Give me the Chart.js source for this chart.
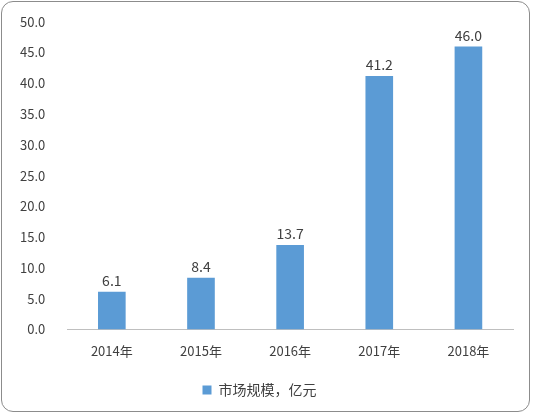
<!DOCTYPE html>
<html>
<head>
<meta charset="utf-8">
<script src="https://cdn.jsdelivr.net/npm/chart.js@4"></script>
<style>
  html, body { margin: 0; padding: 0; background: #fff; }
  #box {
    position: absolute; left: 1px; top: 1px; width: 529px; height: 411px;
    border: 1px solid #8c8c8c; border-radius: 12px; box-sizing: border-box;
  }
  #wrap { position: absolute; left: 0; top: 0; width: 533px; height: 415px; }
</style>
</head>
<body>
<div id="box"></div>
<div id="wrap"><canvas id="chart"></canvas></div>
<script>
const categories = ['2014年', '2015年', '2016年', '2017年', '2018年'];
const marketSize = [6.1, 8.4, 13.7, 41.2, 46.0];
const seriesName = '市场规模，亿元';

const fontFamily = '"Noto Sans CJK SC", "Liberation Sans", sans-serif';

// 柱顶数值标签
const valueLabels = {
    id: 'valueLabels',
    afterDatasetsDraw(chart) {
        const ctx = chart.ctx;
        const meta = chart.getDatasetMeta(0);
        ctx.save();
        ctx.font = '14px ' + fontFamily;
        ctx.fillStyle = '#404040';
        ctx.textAlign = 'center';
        ctx.textBaseline = 'bottom';
        meta.data.forEach((bar, i) => {
            ctx.fillText(marketSize[i].toFixed(1), bar.x, bar.y - 4);
        });
        ctx.restore();
    }
};

new Chart(document.getElementById('chart').getContext('2d'), {
    type: 'bar',
    data: {
        labels: categories,
        datasets: [{
            label: seriesName,
            data: marketSize,
            backgroundColor: '#5B9BD5',
            barPercentage: 0.62,
            categoryPercentage: 0.5
        }]
    },
    options: {
        responsive: true,
        maintainAspectRatio: false,
        animation: false,
        layout: { padding: { left: 6, right: 20, top: 10, bottom: 8 } },
        plugins: {
            legend: {
                position: 'bottom',
                labels: {
                    boxWidth: 9, boxHeight: 9, padding: 18,
                    color: '#404040',
                    font: { family: fontFamily, size: 14 }
                }
            },
            tooltip: { enabled: false }
        },
        scales: {
            x: {
                grid: { display: false },
                border: { color: '#bfbfbf' },
                ticks: { color: '#404040', font: { family: fontFamily, size: 13 }, padding: 6 }
            },
            y: {
                min: 0, max: 50,
                grid: { display: false },
                border: { display: false },
                ticks: {
                    stepSize: 5,
                    color: '#404040',
                    font: { family: fontFamily, size: 13 },
                    padding: 14,
                    callback: v => v.toFixed(1)
                }
            }
        }
    },
    plugins: [valueLabels]
});
</script>
</body>
</html>
